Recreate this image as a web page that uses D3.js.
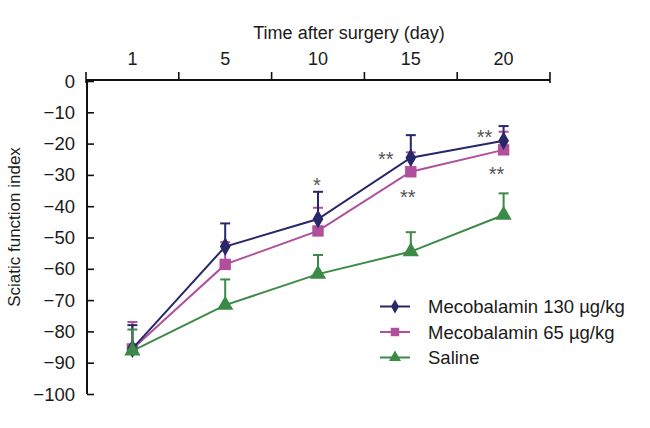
<!DOCTYPE html>
<html><head><meta charset="utf-8">
<script src="https://cdn.jsdelivr.net/npm/d3@7"></script>
<style>body{margin:0;background:#fff}svg{display:block}text{font-family:"Liberation Sans",Arial,sans-serif;fill:#1a1a1a}</style>
</head><body>
<svg id="c" width="650" height="428"></svg>
<script>
const days = ["1","5","10","15","20"];
const yTicks = [0,-10,-20,-30,-40,-50,-60,-70,-80,-90,-100];
const seriesNames = ["Mecobalamin 130 µg/kg","Mecobalamin 65 µg/kg","Saline"];
const meco130 = [-85.5,-52.9,-44.1,-24.5,-19.1];
const meco130Err = [7.5,7.4,8.7,7.2,4.7];
const meco65 = [-85.6,-58.6,-47.9,-29.0,-22.0];
const meco65Err = [8.6,7.1,7.4,6.2,5.8];
const saline = [-86.2,-71.6,-61.7,-54.5,-42.8];
const salineErr = [6.8,8.2,6.1,6.2,6.9];
const stars = [
  {day:"10", value:-35.6, text:"*", dx:-1},
  {day:"15", value:-27.3, text:"**", dx:-25},
  {day:"15", value:-39.4, text:"**", dx:-3},
  {day:"20", value:-20.2, text:"**", dx:-19},
  {day:"20", value:-32.1, text:"**", dx:-7}
];

const svg = d3.select("#c");
const x = d3.scaleBand().domain(days).range([86,550]);
const y = d3.scaleLinear().domain([-100,0]).range([394,81]);
const cx = d => x(d) + x.bandwidth()/2;

// top axis
const topAxis = svg.append("g");
topAxis.append("line").attr("x1",86).attr("x2",550).attr("y1",80).attr("y2",80).attr("stroke","#111").attr("stroke-width",2);
const bounds = days.map(d=>x(d)).concat([550]);
topAxis.selectAll("line.t").data(bounds).join("line").attr("class","t")
  .attr("x1",d=>d).attr("x2",d=>d).attr("y1",72).attr("y2",(d,i)=>(i===0||i===bounds.length-1)?83:81)
  .attr("stroke","#111").attr("stroke-width",1.6);
topAxis.selectAll("text").data(days).join("text")
  .attr("x",d=>cx(d)).attr("y",64.5).attr("text-anchor","middle").attr("font-size",18).text(d=>d);
svg.append("text").attr("x",349).attr("y",39).attr("text-anchor","middle").attr("font-size",18).text("Time after surgery (day)");

// left axis
const yAxis = d3.axisRight(y).tickValues(yTicks).tickSize(7).tickFormat("");
const ga = svg.append("g").attr("transform","translate(87,0)").call(yAxis);
ga.select(".domain").attr("d",`M0,${y(0)-1}V${y(-100)}`).attr("stroke","#111").attr("stroke-width",2);
ga.selectAll(".tick line").attr("stroke","#111").attr("stroke-width",1.6);
svg.append("g").selectAll("text").data(yTicks).join("text")
  .attr("x",75).attr("y",d=>y(d)+6.5).attr("text-anchor","end").attr("font-size",18.5)
  .text(d=> d===0 ? "0" : "\u2212"+Math.abs(d));
svg.append("text").attr("transform","translate(20,227) rotate(-90)").attr("text-anchor","middle").attr("font-size",17).text("Sciatic function index");

const series = [
  {name:seriesNames[1], vals:meco65, err:meco65Err, color:"#b0509d", sym:d3.symbolSquare, size:130},
  {name:seriesNames[0], vals:meco130, err:meco130Err, color:"#28276a", sym:d3.symbolDiamond, size:100},
  {name:seriesNames[2], vals:saline, err:salineErr, color:"#3b8a47", sym:d3.symbolTriangle, size:115}
];
const line = d3.line().x((v,i)=>cx(days[i])).y(v=>y(v));
series.forEach(s=>{
  const g = svg.append("g");
  g.selectAll("line.e").data(s.vals).join("line")
    .attr("x1",(v,i)=>cx(days[i])).attr("x2",(v,i)=>cx(days[i]))
    .attr("y1",v=>y(v)).attr("y2",(v,i)=>y(v+s.err[i])).attr("stroke",s.color).attr("stroke-width",2);
  g.selectAll("line.c").data(s.vals).join("line")
    .attr("x1",(v,i)=>cx(days[i])-5).attr("x2",(v,i)=>cx(days[i])+5)
    .attr("y1",(v,i)=>y(v+s.err[i])).attr("y2",(v,i)=>y(v+s.err[i])).attr("stroke",s.color).attr("stroke-width",2);
  g.append("path").attr("d",line(s.vals)).attr("fill","none").attr("stroke",s.color).attr("stroke-width",2);
  g.selectAll("path.m").data(s.vals).join("path").attr("class","m")
    .attr("transform",(v,i)=>`translate(${cx(days[i])},${y(v)})`)
    .attr("d",d3.symbol().type(s.sym).size(s.size)).attr("fill",s.color);
});

svg.append("g").selectAll("text").data(stars).join("text")
  .attr("x",d=>cx(d.day)+d.dx).attr("y",d=>y(d.value)).attr("text-anchor","middle")
  .attr("font-size",20).style("fill","#555").text(d=>d.text);

// legend
const legOrder = [series[1],series[0],series[2]];
const lg = svg.append("g");
legOrder.forEach((s,i)=>{
  const yy = 306.5 + i*25.5;
  lg.append("line").attr("x1",380).attr("x2",410).attr("y1",yy).attr("y2",yy).attr("stroke",s.color).attr("stroke-width",2);
  lg.append("path").attr("transform",`translate(395,${yy})`).attr("d",d3.symbol().type(s.sym).size(s.size*0.55)).attr("fill",s.color);
  lg.append("text").attr("x",428).attr("y",yy+6.8).attr("font-size",18.5).text(s.name);
});
</script>
</body></html>
